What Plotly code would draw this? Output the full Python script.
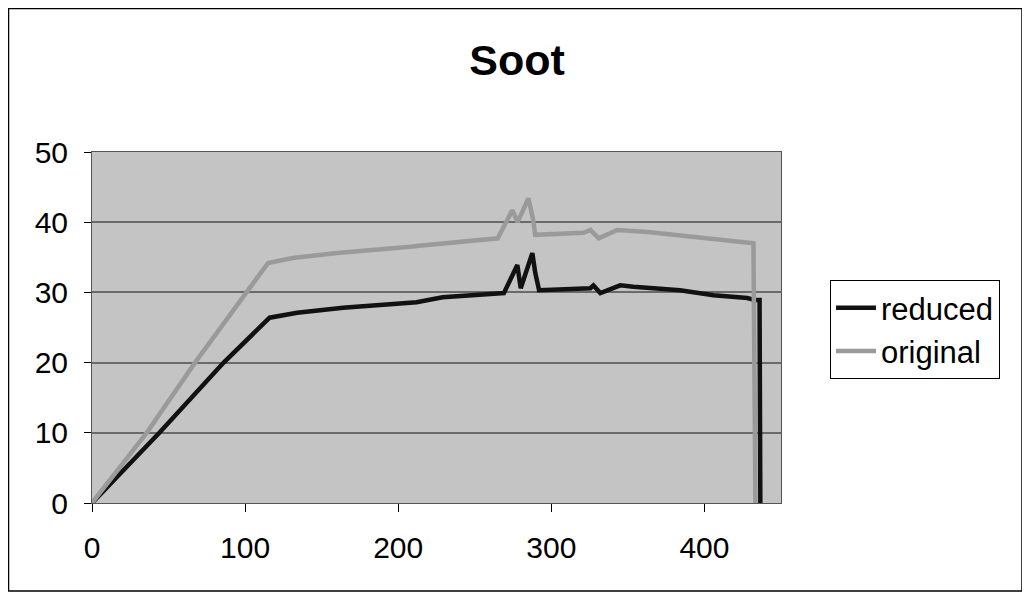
import plotly.graph_objects as go

# Data
reduced_x = [0, 44, 86, 116, 134, 164, 212, 229, 269, 271, 277.8, 280, 287.6, 289.5,
             292, 325.5, 327.5, 332, 345, 353.6, 369, 384, 406, 428, 433, 436, 436.5]
reduced_y = [0, 10, 20, 26.4, 27.1, 27.8, 28.6, 29.3, 29.9, 30.8, 33.9, 30.6, 35.6, 32.8,
             30.3, 30.6, 31.0, 29.9, 31.0, 30.8, 30.6, 30.3, 29.6, 29.2, 28.9, 28.9, 0]

original_x = [0, 35.7, 67.3, 115, 131, 160, 208, 212, 265, 274.5, 278, 285, 288, 289.5,
              321, 325.5, 331, 343, 363, 380, 406, 423.5, 432, 433.3]
original_y = [0, 10, 20, 34.2, 34.9, 35.6, 36.5, 36.6, 37.7, 41.7, 40.0, 43.4, 40.5, 38.2,
              38.5, 38.9, 37.7, 38.9, 38.6, 38.2, 37.5, 37.2, 37.0, 0]

x_ticks = [0, 100, 200, 300, 400]
y_ticks = [0, 10, 20, 30, 40, 50]

FONT = "Liberation Sans, Arial, sans-serif"

fig = go.Figure()
fig.add_trace(go.Scatter(x=reduced_x, y=reduced_y, mode="lines", name="reduced",
                         line=dict(color="#111111", width=4.5)))
fig.add_trace(go.Scatter(x=original_x, y=original_y, mode="lines", name="original",
                         line=dict(color="#9a9a9a", width=4.5)))

# page has an 8px body margin, so figure coords = window coords - 8
W, H = 1022, 591
L, T = 84, 144
PR, PB = 773, 495
R, B = W - PR, H - PB
pw, ph = PR - L, PB - T


def px_x(p):
    return (p - L) / pw


def px_y(p):
    return (PB - p) / ph


fig.update_layout(
    width=W, height=H,
    margin=dict(l=L, r=R, t=T, b=B, autoexpand=False),
    paper_bgcolor="white",
    plot_bgcolor="#c4c4c4",
    font=dict(family=FONT, color="black", size=30),
    title=dict(text="<b>Soot</b>", x=509 / W, xanchor="center", y=1 - 52 / H, yanchor="middle",
               font=dict(size=43, family=FONT)),
    xaxis=dict(range=[0, 450], tickvals=x_ticks, showgrid=False, zeroline=False,
               ticks="outside", ticklen=8, tickcolor="black", tickwidth=1,
               showline=True, linecolor="#555555", linewidth=1, mirror=True,
               tickfont=dict(size=30), ticklabelstandoff=10),
    yaxis=dict(range=[0, 50], tickvals=y_ticks, showgrid=True, gridcolor="#6a6a6a",
               gridwidth=2, zeroline=False, ticks="outside", ticklen=7,
               tickcolor="black", tickwidth=1, showline=True, linecolor="#555555",
               linewidth=1, mirror=True, tickfont=dict(size=30), ticklabelstandoff=10),
    showlegend=True,
    legend=dict(x=px_x(822), y=px_y(272), xanchor="left", yanchor="top",
                bordercolor="black", borderwidth=1, bgcolor="white",
                font=dict(size=31, family=FONT), tracegroupgap=0,
                itemwidth=40),
    shapes=[dict(type="rect", xref="paper", yref="paper",
                 x0=px_x(0.5), x1=px_x(1014), y0=px_y(583), y1=px_y(0.5),
                 line=dict(color="black", width=1.5), fillcolor="rgba(0,0,0,0)",
                 layer="below")],
)

fig.write_html("out.html")
